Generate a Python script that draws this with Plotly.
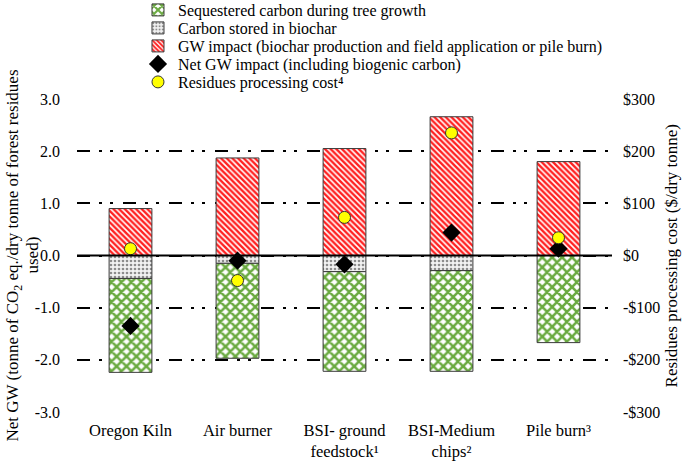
import plotly.graph_objects as go

categories = ["Oregon Kiln", "Air burner", "BSI- ground<br>feedstock¹", "BSI-Medium<br>chips²", "Pile burn³"]
sequestered = [-1.80, -1.82, -1.91, -1.93, -1.67]
stored_biochar = [-0.44, -0.15, -0.31, -0.29, 0.0]
gw_impact = [0.90, 1.87, 2.05, 2.66, 1.80]
net_gw = [-1.35, -0.10, -0.17, 0.44, 0.13]
cost = [13, -48, 73, 235, 34]

left_ticks = [-3, -2, -1, 0, 1, 2, 3]
left_ticktext = ["-3.0", "-2.0", "-1.0", "0.0", "1.0", "2.0", "3.0"]
right_ticks = [-300, -200, -100, 0, 100, 200, 300]
right_ticktext = ["-$300", "-$200", "-$100", "$0", "$100", "$200", "$300"]

FONT = "Liberation Serif, Times New Roman, serif"
edge = dict(color="#3a3a3a", width=1)

fig = go.Figure()
fig.add_trace(go.Bar(
    x=categories, y=stored_biochar, name="Carbon stored in biochar", legend="legend2",
    marker=dict(color="#ededed", line=edge,
                pattern=dict(shape=".", fgcolor="#8c8c8c", bgcolor="#f2f2f2", size=4,
                             solidity=0.35, fgopacity=1)),
    width=0.4))
fig.add_trace(go.Bar(
    x=categories, y=sequestered, name="Sequestered carbon during tree growth", legend="legend",
    marker=dict(color="#70ad47", line=edge,
                pattern=dict(shape="x", fgcolor="#6aaa40", bgcolor="white", size=7,
                             solidity=0.6, fgopacity=1)),
    width=0.4))
fig.add_trace(go.Bar(
    x=categories, y=gw_impact, name="GW impact (biochar production and field application or pile burn)",
    legend="legend3",
    marker=dict(color="#ff2020", line=edge,
                pattern=dict(shape="\\", fgcolor="#ff2020", bgcolor="white", size=4,
                             solidity=0.6, fgopacity=1)),
    width=0.4))
fig.add_trace(go.Scatter(
    x=categories, y=net_gw, mode="markers", name="Net GW impact (including biogenic carbon)",
    legend="legend4",
    marker=dict(symbol="diamond", color="black", size=14, line=dict(width=0))))
fig.add_trace(go.Scatter(
    x=categories, y=cost, mode="markers", name="Residues processing cost⁴", legend="legend5",
    yaxis="y2",
    marker=dict(symbol="circle", color="#ffff00", size=12, line=dict(color="#333333", width=1))))

fig.add_shape(type="line", xref="paper", yref="y", x0=0, x1=1, y0=0, y1=0,
              line=dict(color="black", width=2), layer="above")

title_font = dict(family=FONT, size=17, color="black")
fig.add_annotation(text="Net GW (tonne of CO<sub>2</sub> eq./dry tonne of forest residues",
                   xref="paper", yref="paper", x=-0.1178, y=0.5, xanchor="center", yanchor="middle",
                   textangle=-90, showarrow=False, font=title_font)
fig.add_annotation(text="used)",
                   xref="paper", yref="paper", x=-0.0841, y=0.5, xanchor="center", yanchor="middle",
                   textangle=-90, showarrow=False, font=title_font)
fig.add_annotation(text="Residues processing cost ($/dry tonne)", xref="paper", yref="paper",
                   x=1.112, y=0.5, xanchor="center", yanchor="middle", textangle=-90,
                   showarrow=False, font=title_font)

# plot area height 313 px; legend rows spaced 18 px
row_y = [1.2843, 1.2268, 1.1693, 1.1118, 1.0543]
leg_common = dict(x=0.114, xanchor="left", yanchor="middle", bgcolor="rgba(0,0,0,0)",
                  font=dict(family=FONT, size=16, color="black"), itemwidth=30,
                  borderwidth=0)
legends = {}
for i, yy in enumerate(row_y):
    key = "legend" if i == 0 else f"legend{i + 1}"
    legends[key] = dict(leg_common, y=yy)

fig.update_layout(
    width=685, height=461,
    margin=dict(l=77, r=73, t=99, b=49, autoexpand=False),
    paper_bgcolor="white", plot_bgcolor="white",
    barmode="relative", bargap=0.6,
    font=dict(family=FONT, size=16.5, color="black"),
    showlegend=True,
    **legends,
    xaxis=dict(showgrid=False, showline=False, ticks="", tickfont=dict(size=16.5), fixedrange=True,
               automargin=False, ticklabelstandoff=6),
    yaxis=dict(range=[-3, 3], tickvals=left_ticks, ticktext=left_ticktext,
               showgrid=True, gridcolor="black", gridwidth=2,
               griddash="13px,9px,3px,8px,3px,10px",
               zeroline=False, showline=False, ticks="", ticklabelstandoff=16,
               tickfont=dict(size=16), automargin=False),
    yaxis2=dict(range=[-300, 300], overlaying="y", side="right", tickvals=right_ticks,
                ticktext=right_ticktext, showgrid=False, zeroline=False, showline=False,
                ticks="", ticklabelstandoff=10, tickfont=dict(size=16), automargin=False),
)

fig.write_html("out.html", config={"displayModeBar": False},
               post_script="document.body.style.margin='0';document.body.style.overflow='hidden';")
